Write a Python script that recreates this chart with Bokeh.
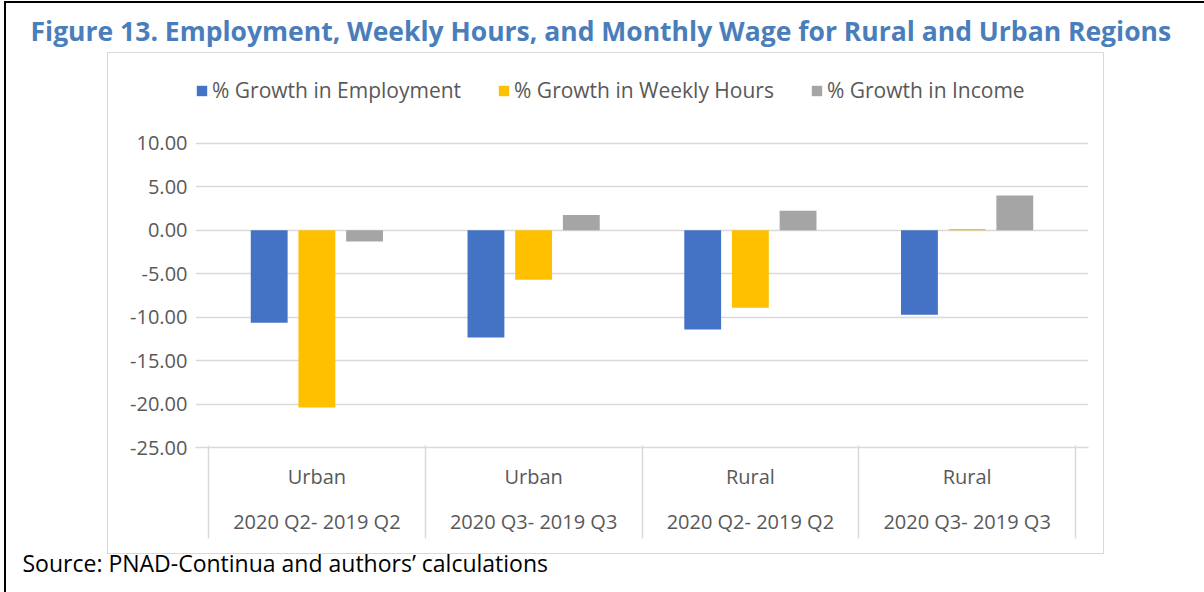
from bokeh.plotting import figure
from bokeh.models import (ColumnDataSource, FactorRange, Range1d, LinearAxis, CategoricalAxis,
                          FixedTicker, Legend, LegendItem, Title,
                          NumeralTickFormatter, CustomJSTickFormatter)
from bokeh.transform import dodge
from bokeh.embed import file_html
from bokeh.resources import INLINE

# ---------------- data ----------------
regions = ["Urban", "Urban", "Rural", "Rural"]
periods = ["2020 Q2- 2019 Q2", "2020 Q3- 2019 Q3", "2020 Q2- 2019 Q2", "2020 Q3- 2019 Q3"]
employment = [-10.65, -12.35, -11.42, -9.73]
weekly_hours = [-20.4, -5.69, -8.92, 0.15]
income = [-1.27, 1.77, 2.27, 4.00]
series_names = ["% Growth in Employment", "% Growth in Weekly Hours", "% Growth in Income"]
series_colors = ["#4472C4", "#FFC000", "#A5A5A5"]
y_ticks = [10, 5, 0, -5, -10, -15, -20, -25]
title_text = "Figure 13. Employment, Weekly Hours, and Monthly Wage for Rural and Urban Regions"
source_text = "Source: PNAD-Continua and authors\u2019 calculations"

FONT = "Open Sans"
GRID = "#D9D9D9"
TXT = "#595959"

# decorative frames (chart-area box and the page border), drawn with CSS on the figure host
frame_css = """
:host { position: relative; }
:host::before { content: ""; position: absolute; left: 107px; top: 52px; width: 997px; height: 502px;
  border: 1.5px solid #D9D9D9; box-sizing: border-box; pointer-events: none; z-index: 5; }
:host::after { content: ""; position: absolute; left: 4px; top: 1px; right: 0px; bottom: 0px;
  border-left: 2.5px solid black; border-top: 2.5px solid black; pointer-events: none; z-index: 5; }
"""

cats = [f"{r} | {p}" for r, p in zip(regions, periods)]
src = ColumnDataSource(dict(cat=cats, emp=employment, hrs=weekly_hours, inc=income))

# the y range extends above 10 so the legend sits inside the plot frame
p = figure(x_range=FactorRange(*cats, range_padding=0.06, range_padding_units="absolute",
                               factor_padding=0),
           y_range=Range1d(-25, 20.13), title=title_text,
           width=1204, height=592, output_backend="svg", toolbar_location=None,
           min_border_left=195, min_border_right=116, min_border_top=55, min_border_bottom=145,
           stylesheets=[frame_css])
p.outline_line_color = None
p.background_fill_color = "white"
p.border_fill_color = "white"

# bars
offsets = [-0.22, 0.0, 0.22]
cols = ["emp", "hrs", "inc"]
renderers = []
for off, col, color in zip(offsets, cols, series_colors):
    r = p.vbar(x=dodge("cat", off, range=p.x_range), top=col, bottom=0, width=0.17,
               source=src, fill_color=color, line_color=None)
    renderers.append(r)

# grid
p.xgrid.visible = False
p.ygrid.ticker = FixedTicker(ticks=y_ticks)
p.ygrid.grid_line_color = GRID
p.ygrid.grid_line_width = 1.5

# y axis
yax = p.yaxis[0]
yax.ticker = FixedTicker(ticks=y_ticks)
yax.formatter = NumeralTickFormatter(format="0.00")
yax.axis_line_color = None
yax.major_tick_line_color = None
yax.minor_tick_line_color = None
yax.major_tick_out = 0
yax.major_tick_in = 0
yax.major_label_standoff = 8
yax.major_label_text_font = FONT
yax.major_label_text_font_size = "20px"
yax.major_label_text_color = TXT

# x axis 1: region
xax = p.xaxis[0]
xax.formatter = CustomJSTickFormatter(code="return tick.split(' | ')[0]")
xax.axis_line_color = GRID
xax.axis_line_width = 1.5
xax.major_tick_line_color = None
xax.minor_tick_line_color = None
xax.major_tick_out = 0
xax.major_tick_in = 0
xax.major_label_standoff = 15
xax.major_label_text_font = FONT
xax.major_label_text_font_size = "20px"
xax.major_label_text_color = TXT

# x axis 2: period
xax2 = CategoricalAxis(formatter=CustomJSTickFormatter(code="return tick.split(' | ')[1]"))
xax2.axis_line_color = None
xax2.major_tick_line_color = None
xax2.minor_tick_line_color = None
xax2.major_tick_out = 0
xax2.major_tick_in = 0
xax2.major_label_standoff = 15
xax2.major_label_text_font = FONT
xax2.major_label_text_font_size = "20px"
xax2.major_label_text_color = TXT
p.add_layout(xax2, "below")

# x axis 3: category dividers (at the boundaries between categories)
xax3 = LinearAxis(ticker=FixedTicker(ticks=list(range(len(cats) + 1))),
                  formatter=CustomJSTickFormatter(code="return ''"))
xax3.axis_line_color = None
xax3.minor_tick_line_color = None
xax3.major_tick_line_color = GRID
xax3.major_tick_line_width = 1.5
xax3.major_tick_in = 92
xax3.major_tick_out = 1
xax3.major_label_standoff = 0
xax3.major_label_text_font_size = "0px"
p.add_layout(xax3, "below")

# source note (outermost below)
p.add_layout(Title(text=source_text, align="left", offset=-173, standoff=12,
                   text_font=FONT, text_font_size="23px", text_font_style="normal",
                   text_color="black"), "below")

# legend (inside the frame, above the 10.00 gridline)
items = [LegendItem(label=n, renderers=[r]) for n, r in zip(series_names, renderers)]
legend = Legend(items=items, orientation="horizontal", location=(0, 343),
                glyph_width=13, glyph_height=13, label_standoff=4, spacing=36,
                padding=0, margin=0, border_line_color=None, background_fill_alpha=0,
                label_text_font=FONT, label_text_font_size="21px", label_text_color=TXT)
p.add_layout(legend, "center")

# title
p.title.align = "left"
p.title.offset = -165
p.title.standoff = 14
p.title.text_font = FONT
p.title.text_font_style = "bold"
p.title.text_font_size = "26.5px"
p.title.text_color = "#4A7EBB"

open("out.html", "w").write(file_html(p, INLINE))
